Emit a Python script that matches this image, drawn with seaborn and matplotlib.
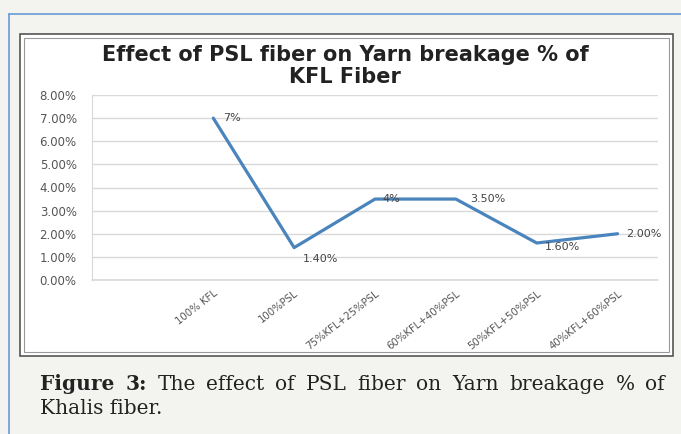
import pandas as pd
import matplotlib.pyplot as plt
import seaborn as sns
from matplotlib.patches import Rectangle
from matplotlib.lines import Line2D

# Chart data
blends = ['100% KFL', '100%PSL', '75%KFL+25%PSL', '60%KFL+40%PSL', '50%KFL+50%PSL', '40%KFL+60%PSL']
breakage = [7.0, 1.4, 3.5, 3.5, 1.6, 2.0]
point_labels = ['7%', '1.40%', '4%', '3.50%', '1.60%', '2.00%']
y_ticks = [0, 1, 2, 3, 4, 5, 6, 7, 8]

df = pd.DataFrame({'Blend': blends, 'Breakage': breakage})

sns.set_style('white')
plt.rcParams['font.family'] = ['DejaVu Sans']

W, H = 681, 434
fig = plt.figure(figsize=(6.81, 4.34), dpi=100)
fig.patch.set_facecolor('#f3f3ef')

# page frame lines (blue) and white chart box, kept behind the axes
fig.add_artist(Line2D([9/W, 9/W], [0, 1 - 14/H], color='#6a9ad8', lw=1.2, zorder=-5))
fig.add_artist(Line2D([9/W, 1], [1 - 14/H, 1 - 14/H], color='#6a9ad8', lw=1.2, zorder=-5))
fig.add_artist(Rectangle((20/W, 1 - 356/H), 653/W, 322/H, transform=fig.transFigure,
                         facecolor='white', edgecolor='#555555', lw=1.2, zorder=-5))
fig.add_artist(Rectangle((24/W, 1 - 352/H), 645/W, 314/H, transform=fig.transFigure,
                         facecolor='none', edgecolor='#999999', lw=0.8, zorder=-4))

ax = fig.add_axes([92/W, 1 - 280/H, 566/W, 185/H])
ax.set_facecolor('white')
sns.lineplot(data=df, x='Blend', y='Breakage', ax=ax, color='#4a84bd', lw=2.3, sort=False)

ax.set_xlim(-1.5, 5.5)
ax.set_ylim(0, 8)
ax.set_yticks(y_ticks)
ax.set_yticklabels([f'{v:.2f}%' for v in y_ticks], fontsize=8.5, color='#555555')
ax.set_xticks(range(len(blends)))
ax.set_xticklabels(blends, rotation=38, ha='right', rotation_mode='anchor', fontsize=7.3, color='#555555')
ax.tick_params(axis='y', length=0, pad=11)
ax.tick_params(axis='x', length=0, pad=6)
ax.set_xlabel('')
ax.set_ylabel('')
ax.grid(axis='y', color='#d9d9d9', lw=1)
ax.axhline(0, color='#d9d9d9', lw=1.2, clip_on=False, zorder=0)
for s in ['top', 'right', 'bottom']:
    ax.spines[s].set_visible(False)
ax.spines['left'].set_color('#d9d9d9')

# data labels
offsets = [(7, 0), (6, -8), (5, 0), (10, 0), (6, -3), (6, 0)]
for i, (val, lab) in enumerate(zip(breakage, point_labels)):
    ax.annotate(lab, (i, val), xytext=offsets[i], textcoords='offset points',
                fontsize=8, color='#444444', va='center', ha='left')

fig.text(345/W, 1 - 66/H, 'Effect of PSL fiber on Yarn breakage % of\nKFL Fiber',
         ha='center', va='center', fontsize=15, fontweight='bold', color='#222222',
         linespacing=1.1)

# caption, first line justified between x=40 and x=665
fig.canvas.draw()
renderer = fig.canvas.get_renderer()
cap_size = 14.5
words = [('Figure', 'bold'), ('3:', 'bold'), ('The', 'normal'), ('effect', 'normal'),
         ('of', 'normal'), ('PSL', 'normal'), ('fiber', 'normal'), ('on', 'normal'),
         ('Yarn', 'normal'), ('breakage', 'normal'), ('%', 'normal'), ('of', 'normal')]
texts = []
total = 0
for w, fw in words:
    t = fig.text(0, 1 - 384/H, w, fontsize=cap_size, fontweight=fw, family='DejaVu Serif',
                 color='#222222', va='center')
    total += t.get_window_extent(renderer).width
    texts.append(t)
gap = (625 - total) / (len(words) - 1)
x = 40
for t in texts:
    t.set_x(x / W)
    x += t.get_window_extent(renderer).width + gap
fig.text(40/W, 1 - 408/H, 'Khalis fiber.', fontsize=cap_size, family='DejaVu Serif',
         color='#222222', va='center')

plt.savefig('out.png', dpi=100, facecolor=fig.get_facecolor())
